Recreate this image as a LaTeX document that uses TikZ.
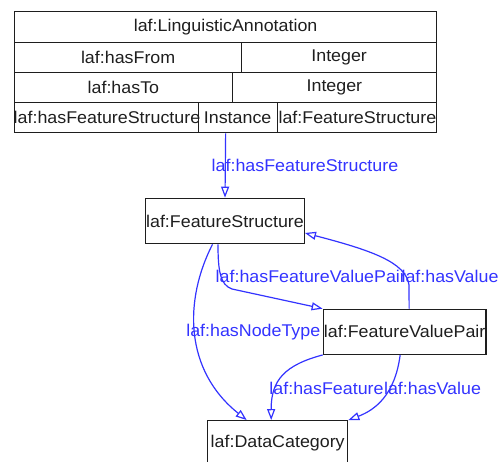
\documentclass[tikz,border=0pt]{standalone}
\usepackage{fontspec}
\setmainfont[FakeStretch=1.05]{Liberation Sans}
\usetikzlibrary{arrows.meta}
\definecolor{edgeblue}{RGB}{51,51,255}
\definecolor{ink}{RGB}{30,30,30}
\begin{document}
\begin{tikzpicture}[x=1pt,y=-1pt,
  every node/.style={font=\fontsize{17}{19}\selectfont,text=ink},
  cell/.style={draw=ink,line width=1.3pt,inner sep=0pt,anchor=north west},
  box/.style={draw=ink,line width=1.3pt,inner sep=0pt},
  edge/.style={draw=edgeblue,line width=1.2pt,-{Triangle[open,length=11pt,width=8pt]}},
  lbl/.style={text=edgeblue,inner sep=0pt}]
\useasboundingbox (0,0) rectangle (499,462);
% table
\node[cell,minimum width=422pt,minimum height=31pt] (la1) at (14,11) {laf:LinguisticAnnotation};
\node[cell,minimum width=227pt,minimum height=30pt] (la2a) at (14,42) {laf:hasFrom};
\node[cell,minimum width=195pt,minimum height=30pt] (la2b) at (241,42) {Integer};
\node[cell,minimum width=217.5pt,minimum height=30pt] (la3a) at (14,72) {laf:hasTo};
\node[cell,minimum width=204.5pt,minimum height=30pt] (la3b) at (231.5,72) {Integer};
\node[cell,minimum width=183.5pt,minimum height=30pt] (la4a) at (14,102) {};
\node[cell,minimum width=79pt,minimum height=30pt] (la4b) at (197.5,102) {Instance};
\node[cell,minimum width=159.5pt,minimum height=30pt] (la4c) at (276.5,102) {};
\node[inner sep=0pt,anchor=west] (t4a) at (13.5,117) {laf:hasFeatureStructure};
\node[inner sep=0pt,anchor=east] (t4c) at (436.5,117) {laf:FeatureStructure};
\coordinate (tabout) at (la1.center |- la4b.south);
% boxes
\node[box,minimum width=158.6pt,minimum height=45.4pt] (fs) at (225,221) {laf:FeatureStructure};
\node[box,minimum width=162.7pt,minimum height=45pt] (fvp) at (404.65,331.8) {laf:FeatureValuePair};
\node[box,minimum width=140pt,minimum height=45pt] (dc) at (277.7,443.2) {laf:DataCategory};
% edges
\draw[edge] (tabout) -- (fs.north);
\draw[edge] ([xshift=-7pt]fs.south) .. controls (218,270) and (220,285) .. (232,289) -- (fvp.north west);
\draw[edge] ([xshift=4.5pt]fvp.north) -- (409,285) .. controls (406,262) and (370,250) .. ([yshift=-12pt]fs.east);
\draw[edge] ([xshift=-12.5pt]fs.south) .. controls (184,300) and (184,370) .. ([xshift=-31pt]dc.north);
\draw[edge] (fvp.south west) .. controls (285,365) and (271,380) .. ([xshift=-6.5pt]dc.north);
\draw[edge] ([xshift=-4.5pt]fvp.south) .. controls (395,395) and (375,410) .. (dc.north east);
% labels
\node[lbl] (l1) at (305,165) {laf:hasFeatureStructure};
\node[lbl] (l2) at (310.8,276.7) {laf:hasFeatureValuePair};
\node[lbl] (l3) at (450,276.7) {laf:hasValue};
\node[lbl] (l4) at (253.3,332) {laf:hasNodeType};
\node[lbl] (l5) at (326.5,388) {laf:hasFeature};
\node[lbl] (l6) at (432.5,388) {laf:hasValue};
\end{tikzpicture}
\end{document}
